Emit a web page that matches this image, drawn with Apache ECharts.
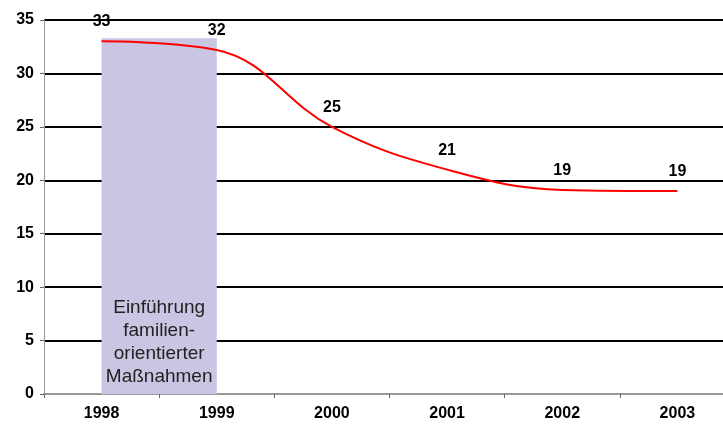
<!DOCTYPE html>
<html>
<head>
<meta charset="utf-8">
<script src="https://cdn.jsdelivr.net/npm/echarts@6/dist/echarts.min.js"></script>
<style>
  html, body { margin: 0; padding: 0; background: #fff; }
  #chart { width: 723px; height: 425px; }
</style>
</head>
<body>
<div id="chart"></div>
<script>
  // data
  const years = ['1998', '1999', '2000', '2001', '2002', '2003']
  const values = [33, 32.2, 25, 21, 19.1, 19]
  const areaStart = '1998'
  const areaEnd = '1999'
  const areaTop = 33.3
  const areaText = 'Einführung\nfamilien-\norientierter\nMaßnahmen'

  const chart = echarts.init(document.getElementById('chart'))
  const font = 'Liberation Sans, Arial, sans-serif'

  chart.setOption({
    animation: false,
    grid: { left: 44, top: 20, width: 691, height: 374, outerBoundsMode: 'none', containLabel: false },
    xAxis: {
      type: 'category',
      data: years,
      boundaryGap: true,
      axisLine: { lineStyle: { color: '#999', width: 2 } },
      axisTick: { show: true, length: 4, lineStyle: { color: '#666' } },
      axisLabel: { color: '#000', fontFamily: font, fontWeight: 'bold', fontSize: 16, margin: 12 },
      splitLine: { show: false }
    },
    yAxis: {
      type: 'value',
      min: 0,
      max: 35,
      interval: 5,
      axisLine: { show: true, lineStyle: { color: '#999', width: 1 } },
      axisTick: { show: true, length: 4, lineStyle: { color: '#666' } },
      axisLabel: { color: '#000', fontFamily: font, fontWeight: 'bold', fontSize: 16, margin: 10 },
      splitLine: { lineStyle: { color: '#000', width: 2 } }
    },
    series: [{
      type: 'line',
      data: values,
      smooth: 0.4,
      showSymbol: true,
      symbol: 'circle',
      symbolSize: 1,
      itemStyle: { color: 'rgba(0,0,0,0)' },
      lineStyle: { color: '#ff0000', width: 2 },
      label: {
        show: true,
        position: 'top',
        distance: 11,
        color: '#000',
        fontFamily: font,
        fontWeight: 'bold',
        fontSize: 16,
        formatter: p => Math.round(p.value)
      },
      markArea: {
        silent: true,
        itemStyle: { color: '#c8c6e2' },
        label: {
          show: true,
          position: 'insideBottom',
          distance: 6,
          color: '#222',
          fontFamily: font,
          fontSize: 19,
          lineHeight: 23,
          align: 'center'
        },
        data: [[
          { coord: [areaStart, areaTop], name: areaText },
          { coord: [areaEnd, 0] }
        ]]
      },
      z: 3
    }]
  })
</script>
</body>
</html>
